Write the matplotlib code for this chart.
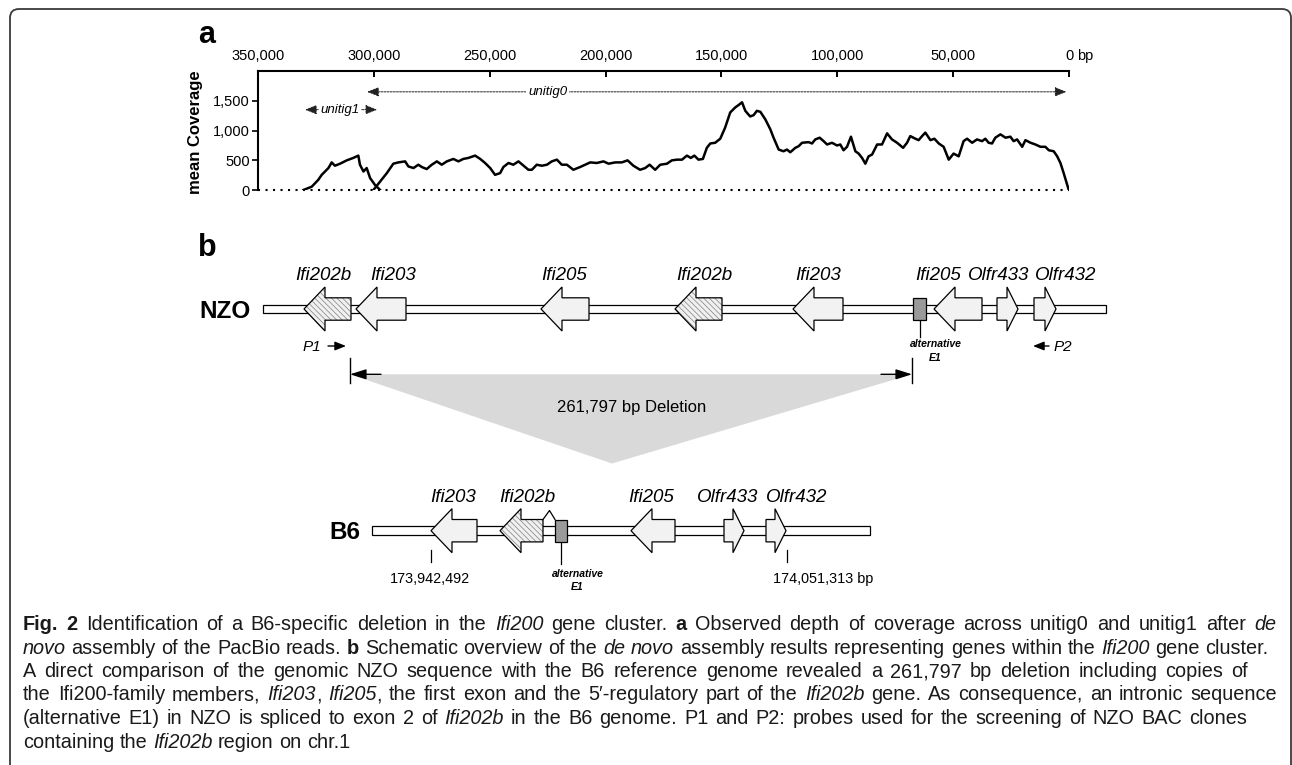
import re
import numpy as np
import matplotlib
matplotlib.use("Agg")
import matplotlib.pyplot as plt
from matplotlib import font_manager
from matplotlib.font_manager import FontProperties
from matplotlib.patches import Polygon, Rectangle, FancyBboxPatch

plt.rcParams['font.family'] = ['Liberation Sans', 'DejaVu Sans']
plt.rcParams['hatch.linewidth'] = 0.5

# ---------------- panel a: coverage along the assembly (kb, mean coverage)
unitig1_kb = [330.4, 326.8, 324.0, 322.5, 319.6, 318.2, 316.8, 314.6, 311.7, 308.9,
              306.7, 306.0, 304.5, 303.1, 301.6, 299.5, 297.3]
unitig1_cov = [0, 56, 170, 255, 369, 464, 408, 442, 498, 539,
               578, 425, 311, 369, 199, 85, 0]

unitig0_kb = [300.2, 297.3, 294.4, 291.6, 289.4, 286.5, 285.1, 282.9, 280.8, 279.3,
              277.2, 275.0, 272.8, 270.7, 268.5, 265.7, 263.5, 261.4, 259.2, 256.3,
              254.1, 252.0, 249.8, 247.7, 245.5, 244.1, 241.9, 239.8, 237.6, 235.4,
              233.3, 231.8, 229.7, 227.5, 225.3, 223.2, 221.0, 218.9, 216.7, 213.9,
              211.0, 208.8, 206.6, 203.8, 200.9, 198.7, 195.8, 193.0, 190.5, 188.0,
              185.1, 182.9, 181.0, 178.6, 176.4, 173.5, 171.4, 169.2, 167.0, 164.9,
              163.2, 161.7, 159.9, 158.0, 156.3, 154.8, 152.7, 150.5, 148.4, 146.2,
              144.0, 142.6, 141.1, 139.7, 137.6, 136.1, 134.7, 133.2, 131.1, 128.9,
              127.5, 125.3, 123.2, 121.7, 120.3, 118.1, 116.7, 115.2, 112.4, 110.9,
              109.5, 107.6, 105.9, 104.4, 102.3, 100.1, 98.7, 97.3, 95.8, 94.1,
              92.2, 90.8, 89.3, 87.9, 86.5, 85.0, 82.8, 80.7, 78.5, 76.4,
              74.2, 71.6, 69.9, 68.5, 66.3, 64.9, 63.4, 62.0, 59.8, 58.1,
              56.2, 54.1, 51.9, 49.8, 47.6, 45.5, 44.0, 41.8, 39.7, 37.5,
              36.1, 34.7, 33.2, 31.8, 29.6, 27.4, 25.3, 23.9, 22.4, 20.2,
              18.8, 16.6, 14.5, 12.3, 10.2, 8.7, 6.6, 5.1, 3.7, 2.3,
              0.1]
unitig0_cov = [0, 141, 284, 442, 464, 481, 396, 369, 425, 386,
               352, 425, 481, 425, 481, 522, 481, 522, 539, 578,
               522, 454, 369, 255, 284, 386, 454, 425, 481, 408,
               340, 340, 425, 408, 425, 481, 510, 425, 425, 340,
               386, 425, 464, 454, 481, 442, 464, 464, 498, 408,
               340, 369, 425, 340, 425, 442, 498, 510, 510, 578,
               539, 578, 510, 522, 709, 782, 794, 862, 1049, 1304,
               1389, 1428, 1474, 1331, 1236, 1258, 1331, 1314, 1190, 1020,
               879, 680, 651, 680, 634, 709, 736, 794, 804, 782,
               850, 879, 821, 765, 794, 748, 765, 668, 726, 896,
               651, 612, 539, 442, 566, 595, 765, 765, 952, 850,
               794, 709, 794, 906, 862, 838, 906, 964, 838, 862,
               782, 726, 510, 612, 566, 821, 862, 794, 850, 821,
               862, 794, 782, 879, 935, 879, 896, 821, 850, 726,
               838, 794, 765, 726, 726, 668, 651, 566, 454, 284,
               0]

unitig0_span = (302.9, 1.1)   # kb
unitig1_span = (329.7, 298.6)

x_ticks = [350000, 300000, 250000, 200000, 150000, 100000, 50000, 0]
y_ticks = [0, 500, 1000, 1500]

# ---------------- panel b: schematic map (map units)
nzo_span = (263, 1106)
nzo_genes = ['Ifi202b', 'Ifi203', 'Ifi205', 'Ifi202b', 'Ifi203', 'Ifi205', 'Olfr433', 'Olfr432']
nzo_start = [304, 356, 541, 675, 793, 934, 997, 1034]
nzo_end = [351, 406, 589, 722, 843, 982, 1018, 1056]
nzo_strand = ['-', '-', '-', '-', '-', '-', '+', '+']
nzo_label_x = [323, 393, 564, 704, 818, 938, 999, 1066]
nzo_e1 = (913, 926)

b6_span = (372, 870)
b6_genes = ['Ifi203', 'Ifi202b', 'Ifi205', 'Olfr433', 'Olfr432']
b6_start = [431, 500, 631, 724, 766]
b6_end = [477, 543, 675, 744, 786]
b6_strand = ['-', '-', '-', '+', '+']
b6_label_x = [453, 527, 651, 728, 797]
b6_e1 = (555, 567)
b6_coord_x = [431, 787]
b6_coord_labels = ['173,942,492', '174,051,313 bp']

deletion = (350, 912)
deletion_label = '261,797 bp Deletion'

caption = [
    [('Fig. 2', 'b'), (' Identification of a B6-specific deletion in the ', 'n'), ('Ifi200', 'i'),
     (' gene cluster. ', 'n'), ('a', 'b'),
     (' Observed depth of coverage across unitig0 and unitig1 after ', 'n'), ('de', 'i')],
    [('novo', 'i'), (' assembly of the PacBio reads. ', 'n'), ('b', 'b'),
     (' Schematic overview of the ', 'n'), ('de novo', 'i'),
     (' assembly results representing genes within the ', 'n'), ('Ifi200', 'i'),
     (' gene cluster.', 'n')],
    [('A direct comparison of the genomic NZO sequence with the B6 reference genome revealed '
      'a 261,797 bp deletion including copies of', 'n')],
    [('the Ifi200-family members, ', 'n'), ('Ifi203', 'i'), (', ', 'n'), ('Ifi205', 'i'),
     (', the first exon and the 5\u2032-regulatory part of the ', 'n'), ('Ifi202b', 'i'),
     (' gene. As consequence, an intronic sequence', 'n')],
    [('(alternative E1) in NZO is spliced to exon 2 of ', 'n'), ('Ifi202b', 'i'),
     (' in the B6 genome. P1 and P2: probes used for the screening of NZO BAC clones', 'n')],
    [('containing the ', 'n'), ('Ifi202b', 'i'), (' region on chr.1', 'n')],
]
cap_right = [1276, 1268, 1248, 1277, 1247, None]   # right edge of each caption line
cap_base = [630, 653.5, 677, 700.5, 724, 747.5]

# ---------------- figure
fig = plt.figure(figsize=(12.92, 7.65), dpi=100)
cv = fig.add_axes([0, 0, 1, 1])
cv.set_xlim(0, 1292)
cv.set_ylim(765, 0)
cv.axis('off')
renderer = fig.canvas.get_renderer()

cv.add_patch(FancyBboxPatch((10, 9), 1281, 800, boxstyle='round,pad=0,rounding_size=9',
                            fill=False, ec='#3a3a3a', lw=1.3, clip_on=False))

# panel a
ax = fig.add_axes([258 / 1292, 1 - 190 / 765, 811 / 1292, 119 / 765])
ax.patch.set_alpha(0)
ax.plot(np.array(unitig1_kb) * 1000, unitig1_cov, color='black', lw=1.8, solid_joinstyle='round')
ax.plot(np.array(unitig0_kb) * 1000, unitig0_cov, color='black', lw=1.8, solid_joinstyle='round')
ax.set_xlim(350000, 0)
ax.set_ylim(0, 2000)
ax.xaxis.tick_top()
ax.set_xticks(x_ticks)
ax.set_xticklabels([f'{t:,}' for t in x_ticks])
ax.tick_params(axis='x', direction='in', length=4.5, width=1.4, pad=6, labelsize=10.5)
ax.set_yticks(y_ticks)
ax.set_yticklabels([f'{t:,}' for t in y_ticks])
ax.tick_params(axis='y', direction='out', length=4.5, width=1.2, pad=1.5, labelsize=10.5)
ax.spines['right'].set_visible(False)
ax.spines['bottom'].set_visible(False)
ax.spines['top'].set_linewidth(1.5)
ax.spines['left'].set_linewidth(1.5)
ax.axhline(0, color='black', lw=1.5, ls=(0, (1, 2.6)), clip_on=False)
ax.annotate('bp', xy=(0, 1), xycoords=('data', 'axes fraction'), xytext=(5.8, 6),
            textcoords='offset points', ha='left', va='bottom', fontsize=10.5)
ax.set_ylabel('mean Coverage', fontsize=12, fontweight='bold')
ax.yaxis.set_label_coords(-0.068, 0.49)

arrow_kw = dict(arrowstyle='<|-|>,head_length=0.5,head_width=0.2', lw=0.7, ls=(0, (2, 1.2)),
                color='#222222', shrinkA=0, shrinkB=0, mutation_scale=14)
ax.annotate('', xy=(unitig0_span[1] * 1000, 1650), xytext=(unitig0_span[0] * 1000, 1650),
            arrowprops=arrow_kw)
ax.text(225000, 1650, 'unitig0', style='italic', ha='center', va='center', fontsize=9.5,
        bbox=dict(fc='white', ec='none', pad=1.5))
ax.annotate('', xy=(unitig1_span[1] * 1000, 1350), xytext=(unitig1_span[0] * 1000, 1350),
            arrowprops=arrow_kw)
ax.text(314600, 1350, 'unitig1', style='italic', ha='center', va='center', fontsize=9.5,
        bbox=dict(fc='white', ec='none', pad=1.0))

cv.text(207, 42.7, 'a', fontsize=22, fontweight='bold', ha='center', va='baseline')
cv.text(207, 256, 'b', fontsize=22, fontweight='bold', ha='center', va='baseline')

# panel b
BODY_H = 11.2
HEAD_H = 22.0


def draw_gene(start, end, strand, yc, hatched):
    head = 21 if end - start > 30 else 11
    if strand == '-':
        hx = start + head
        pts = [(start, yc), (hx, yc - HEAD_H), (hx, yc - BODY_H), (end, yc - BODY_H),
               (end, yc + BODY_H), (hx, yc + BODY_H), (hx, yc + HEAD_H)]
    else:
        hx = end - head
        pts = [(end, yc), (hx, yc - HEAD_H), (hx, yc - BODY_H), (start, yc - BODY_H),
               (start, yc + BODY_H), (hx, yc + BODY_H), (hx, yc + HEAD_H)]
    if hatched:
        cv.add_patch(Polygon(pts, closed=True, fc='#f0f0f0', ec='#808080', lw=0,
                             hatch='\\\\\\\\\\\\', zorder=3))
        cv.add_patch(Polygon(pts, closed=True, fill=False, ec='black', lw=0.9, zorder=4))
    else:
        cv.add_patch(Polygon(pts, closed=True, fc='#f2f2f2', ec='black', lw=0.9, zorder=3))


def draw_track(name, span, genes, starts, ends, strands, label_x, e1, yc, stem, alt_dy):
    cv.add_patch(Rectangle((span[0], yc - 4.3), span[1] - span[0], 8.6, fc='white',
                           ec='black', lw=0.9, zorder=2))
    for g, s, e, st, lx in zip(genes, starts, ends, strands, label_x):
        draw_gene(s, e, st, yc, g == 'Ifi202b')
        cv.text(lx, yc - 29, g, style='italic', fontsize=13.5, ha='center', va='baseline')
    cv.add_patch(Rectangle((e1[0], yc - BODY_H), e1[1] - e1[0], 2 * BODY_H, fc='#9a9a9a',
                           ec='black', lw=0.9, zorder=3))
    ec = (e1[0] + e1[1]) / 2
    cv.plot([ec, ec], [yc + BODY_H, yc + BODY_H + stem], color='black', lw=0.9)
    cv.text(ec + 16.5, yc + alt_dy, 'alternative', style='italic', fontweight='bold',
            fontsize=7.5, ha='center', va='baseline')
    cv.text(ec + 16, yc + alt_dy + 13.4, 'E1', style='italic', fontweight='bold',
            fontsize=7.5, ha='center', va='baseline')
    cv.text(span[0] - 12, yc + 8.5, name, fontsize=17.5, fontweight='bold', ha='right',
            va='baseline')


draw_track('NZO', nzo_span, nzo_genes, nzo_start, nzo_end, nzo_strand, nzo_label_x,
           nzo_e1, 309, 17, 38.3)
draw_track('B6', b6_span, b6_genes, b6_start, b6_end, b6_strand, b6_label_x,
           b6_e1, 530.7, 22, 46)

# splice connection Ifi202b exon 2 -> alternative E1 in B6
cv.plot([b6_end[1], (b6_end[1] + b6_e1[0]) / 2 + 0.5, b6_e1[0]],
        [530.7 - BODY_H, 530.7 - BODY_H - 9, 530.7 - BODY_H], color='black', lw=0.9, zorder=5)

# probes
p_kw = dict(arrowstyle='-|>,head_length=0.55,head_width=0.22', color='black', lw=1,
            shrinkA=0, shrinkB=0, mutation_scale=12)
cv.annotate('', xy=(346, 346), xytext=(328, 346), arrowprops=p_kw)
cv.text(312, 351, 'P1', style='italic', fontsize=11, ha='center', va='baseline')
cv.annotate('', xy=(1033, 346), xytext=(1049, 346), arrowprops=p_kw)
cv.text(1063, 351, 'P2', style='italic', fontsize=11, ha='center', va='baseline')

# deletion bracket and wedge
cv.add_patch(Polygon([(deletion[0], 374.3), (deletion[1], 374.3), (612, 463.5)], closed=True,
                     fc='#d9d9d9', ec='none', zorder=1))
d_kw = dict(arrowstyle='-|>,head_length=0.7,head_width=0.22', color='black', lw=1,
            shrinkA=0, shrinkB=0, mutation_scale=14)
for xd, xs in [(deletion[0], deletion[0] + 31), (deletion[1], deletion[1] - 31)]:
    cv.plot([xd, xd], [357.7, 382.7], color='black', lw=1)
    cv.annotate('', xy=(xd, 374.3), xytext=(xs, 374.3), arrowprops=d_kw)
cv.text(632, 411.7, deletion_label, fontsize=12, ha='center', va='baseline')

# B6 coordinates
for cx, lab, tx, ha in zip(b6_coord_x, b6_coord_labels, [430, 773], ['center', 'left']):
    cv.plot([cx, cx], [550, 561.7], color='black', lw=0.9)
    cv.text(tx, 583.3, lab, fontsize=10.4, ha=ha, va='baseline')

# caption
names = {f.name for f in font_manager.fontManager.ttflist}
cap_font = 'Liberation Sans Narrow' if 'Liberation Sans Narrow' in names else 'Liberation Sans'


def cap_prop(style, size):
    return FontProperties(family=[cap_font, 'DejaVu Sans'], size=size,
                          style='italic' if style == 'i' else 'normal',
                          weight='bold' if style == 'b' else 'normal')


def advance(s, prop):
    w1 = renderer.get_text_width_height_descent('|' + s + '|', prop, ismath=False)[0]
    w0 = renderer.get_text_width_height_descent('||', prop, ismath=False)[0]
    return w1 - w0


def tokens(runs):
    out = []
    for t, st in runs:
        for tok in re.findall(r' +|[^ ]+', t):
            out.append((tok, st))
    return out


def natural(runs, size):
    w, n_sp = 0.0, 0
    for tok, st in tokens(runs):
        prop = cap_prop(st, size)
        if tok.startswith(' '):
            w += len(tok) * advance(' ', prop)
            n_sp += len(tok)
        else:
            w += advance(tok, prop)
    return w, n_sp


cap_size = 10 * min((r - 23) / natural(runs, 10)[0]
                    for runs, r in zip(caption, cap_right) if r is not None)
for runs, yb, right in zip(caption, cap_base, cap_right):
    w, n_sp = natural(runs, cap_size)
    extra = (right - 23 - w) / n_sp if right is not None and n_sp else 0.0
    x = 23
    for tok, st in tokens(runs):
        prop = cap_prop(st, cap_size)
        if tok.startswith(' '):
            x += len(tok) * (advance(' ', prop) + extra)
        else:
            cv.text(x, yb, tok, fontproperties=prop, ha='left', va='baseline', color='#1a1a1a')
            x += advance(tok, prop)

fig.savefig('out.png', dpi=100)
